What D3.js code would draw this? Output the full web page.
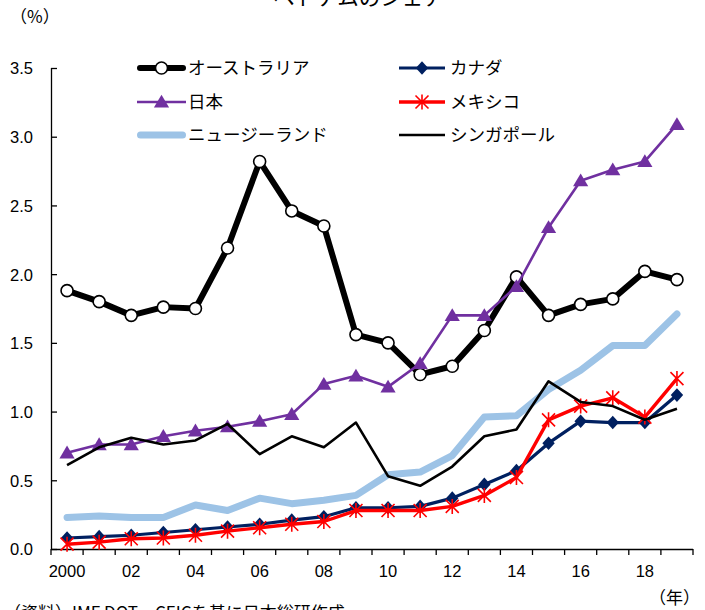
<!DOCTYPE html>
<html>
<head>
<meta charset="utf-8">
<script src="https://cdn.jsdelivr.net/npm/d3@7"></script>
<style>
  body { margin: 0; background: #fff; }
  svg { display: block; }
</style>
</head>
<body>
<svg id="chart" width="705" height="610"></svg>
<script>
// Years on the category axis
const years = [2000, 2001, 2002, 2003, 2004, 2005, 2006, 2007, 2008, 2009,
               2010, 2011, 2012, 2013, 2014, 2015, 2016, 2017, 2018, 2019];
// Labels printed under every other year
const xLabelYears = [2000, 2002, 2004, 2006, 2008, 2010, 2012, 2014, 2016, 2018];
const xLabels = ["2000", "02", "04", "06", "08", "10", "12", "14", "16", "18"];
const yTicks = [0, 0.5, 1.0, 1.5, 2.0, 2.5, 3.0, 3.5];

// Share of Vietnam (%) by partner
const australia  = [1.88, 1.80, 1.70, 1.76, 1.75, 2.19, 2.82, 2.46, 2.35, 1.56,
                    1.50, 1.27, 1.33, 1.59, 1.98, 1.70, 1.78, 1.82, 2.02, 1.96];
const canada     = [0.08, 0.09, 0.10, 0.12, 0.14, 0.16, 0.18, 0.21, 0.235, 0.30,
                    0.30, 0.31, 0.37, 0.47, 0.57, 0.77, 0.93, 0.92, 0.92, 1.12];
const japan      = [0.70, 0.76, 0.76, 0.82, 0.86, 0.89, 0.93, 0.98, 1.20, 1.26,
                    1.18, 1.35, 1.70, 1.70, 1.91, 2.34, 2.68, 2.76, 2.82, 3.09];
const mexico     = [0.035, 0.05, 0.075, 0.08, 0.10, 0.13, 0.155, 0.18, 0.20, 0.28,
                    0.28, 0.28, 0.31, 0.39, 0.52, 0.94, 1.04, 1.10, 0.96, 1.24];
const newZealand = [0.23, 0.24, 0.23, 0.23, 0.32, 0.28, 0.37, 0.33, 0.355, 0.39,
                    0.54, 0.56, 0.68, 0.96, 0.97, 1.16, 1.30, 1.48, 1.48, 1.71];
const singapore  = [0.61, 0.74, 0.81, 0.76, 0.79, 0.91, 0.69, 0.82, 0.74, 0.92,
                    0.53, 0.46, 0.60, 0.82, 0.87, 1.22, 1.07, 1.04, 0.94, 1.02];

const seriesNames = ["オーストラリア", "カナダ", "日本", "メキシコ", "ニュージーランド", "シンガポール"];

const series = [
  { name: seriesNames[0], values: australia,  color: "#000000", width: 6,   marker: "circle",   cap: "round" },
  { name: seriesNames[1], values: canada,     color: "#002060", width: 3.2, marker: "diamond",  cap: "butt" },
  { name: seriesNames[2], values: japan,      color: "#7030A0", width: 2.6, marker: "triangle", cap: "butt" },
  { name: seriesNames[3], values: mexico,     color: "#FF0000", width: 3.4, marker: "asterisk", cap: "butt" },
  { name: seriesNames[4], values: newZealand, color: "#9DC3E6", width: 7,   marker: null,       cap: "round" },
  { name: seriesNames[5], values: singapore,  color: "#000000", width: 2.6, marker: null,       cap: "butt" }
];

const svg = d3.select("#chart");
const jpFont = "'Noto Sans CJK JP', 'Noto Sans', sans-serif";
const numFont = "'Liberation Sans', Arial, sans-serif";

const plot = { left: 51, right: 693, top: 68, bottom: 549 };

const x = d3.scaleBand().domain(years).range([plot.left, plot.right]).paddingInner(0).paddingOuter(0);
const xc = d => x(d) + x.bandwidth() / 2;
const y = d3.scaleLinear().domain([0, 3.5]).range([plot.bottom, plot.top]);

// Title (second line, partly above the frame)
svg.append("text")
  .attr("x", 359).attr("y", 5)
  .attr("text-anchor", "middle")
  .style("font-family", jpFont).style("font-size", "21.5px").attr("fill", "#000")
  .text("ベトナムのシェア");

// Unit labels
svg.append("text")
  .attr("x", 10).attr("y", 23)
  .style("font-family", jpFont).style("font-size", "17px").attr("fill", "#000")
  .text("（%）");
svg.append("text")
  .attr("x", 700).attr("y", 604)
  .attr("text-anchor", "end")
  .style("font-family", jpFont).style("font-size", "17px").attr("fill", "#000")
  .text("（年）");

// Source note (bottom edge)
svg.append("text")
  .attr("x", 4).attr("y", 619)
  .style("font-family", jpFont).style("font-size", "17px").attr("fill", "#000")
  .text("（資料）IMF DOT、CEICを基に日本総研作成");

// Y axis: ticks point into the plot
const yAxis = d3.axisRight(y).tickValues(yTicks).tickSize(6).tickFormat(d3.format(".1f"));
const gy = svg.append("g").attr("transform", `translate(${plot.left},0)`).call(yAxis);
gy.select(".domain").attr("stroke", "#000").attr("stroke-width", 1.3)
  .attr("d", `M0.5,${plot.top}V${plot.bottom}`);
gy.selectAll(".tick line").attr("stroke", "#000").attr("stroke-width", 1.3);
gy.selectAll(".tick text")
  .attr("x", -18).attr("text-anchor", "end").attr("dy", "0.36em")
  .style("font-family", numFont).style("font-size", "16.5px").attr("fill", "#000");

// X axis: tick marks at category boundaries
const gx = svg.append("g").attr("transform", `translate(0,${plot.bottom})`);
gx.append("line")
  .attr("x1", plot.left).attr("x2", plot.right)
  .attr("y1", 0.5).attr("y2", 0.5)
  .attr("stroke", "#000").attr("stroke-width", 1.3);
const boundaries = years.map(d => x(d)).concat([plot.right]);
gx.selectAll("line.tick").data(boundaries).join("line")
  .attr("class", "tick")
  .attr("x1", d => d).attr("x2", d => d)
  .attr("y1", 0).attr("y2", 6)
  .attr("stroke", "#000").attr("stroke-width", 1.3);
gx.selectAll("text").data(xLabelYears).join("text")
  .attr("x", d => xc(d)).attr("y", 28)
  .attr("text-anchor", "middle")
  .style("font-family", numFont).style("font-size", "16.5px").attr("fill", "#000")
  .text((d, i) => xLabels[i]);

// Marker drawing
function drawMarker(g, type, color) {
  if (type === "circle") {
    g.append("circle").attr("r", 6).attr("fill", "#fff").attr("stroke", "#000").attr("stroke-width", 1.6);
  } else if (type === "diamond") {
    g.append("path").attr("d", "M0,-6.8L6.2,0L0,6.8L-6.2,0Z").attr("fill", color);
  } else if (type === "triangle") {
    g.append("path").attr("d", "M0,-7.2L7.6,5.6L-7.6,5.6Z").attr("fill", color);
  } else if (type === "asterisk") {
    g.append("path")
      .attr("d", "M0,-7.5V7.5M-6.5,-6.5L6.5,6.5M-6.5,6.5L6.5,-6.5")
      .attr("stroke", color).attr("stroke-width", 1.6).attr("fill", "none");
  }
}

const line = d3.line().x((d, i) => xc(years[i])).y(d => y(d));

const gSeries = svg.append("g");
series.forEach(s => {
  const g = gSeries.append("g");
  g.append("path")
    .attr("d", line(s.values))
    .attr("fill", "none")
    .attr("stroke", s.color)
    .attr("stroke-width", s.width)
    .attr("stroke-linejoin", "round")
    .attr("stroke-linecap", s.cap);
  if (s.marker) {
    s.values.forEach((v, i) => {
      const m = g.append("g").attr("transform", `translate(${xc(years[i])},${y(v)})`);
      drawMarker(m, s.marker, s.color);
    });
  }
});

// Legend: two columns, three rows
const legendCols = [{ x1: 137, x2: 186, tx: 188 }, { x1: 399, x2: 445, tx: 450 }];
const legendRows = [68, 102, 135];
series.forEach((s, i) => {
  const col = legendCols[i % 2];
  const ry = legendRows[Math.floor(i / 2)];
  const g = svg.append("g");
  g.append("line")
    .attr("x1", col.x1 + (s.cap === "round" ? s.width / 2 : 0))
    .attr("x2", col.x2 - (s.cap === "round" ? s.width / 2 : 0))
    .attr("y1", ry).attr("y2", ry)
    .attr("stroke", s.color).attr("stroke-width", s.width)
    .attr("stroke-linecap", s.cap);
  if (s.marker) {
    const m = g.append("g").attr("transform", `translate(${(col.x1 + col.x2) / 2},${ry})`);
    drawMarker(m, s.marker, s.color);
  }
  g.append("text")
    .attr("x", col.tx).attr("y", ry).attr("dy", "0.36em")
    .style("font-family", jpFont).style("font-size", "17.5px").attr("fill", "#000")
    .text(s.name);
});
</script>
</body>
</html>
